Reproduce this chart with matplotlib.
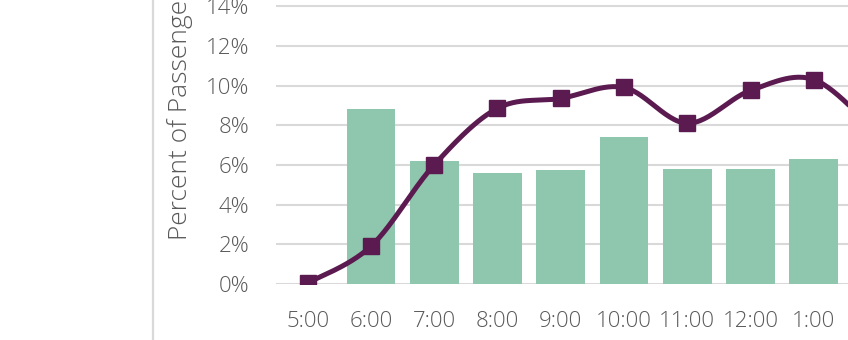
import numpy as np
import matplotlib.pyplot as plt
from matplotlib.lines import Line2D

# data
hours = ["5:00", "6:00", "7:00", "8:00", "9:00", "10:00", "11:00", "12:00", "1:00", "2:00"]
bar_pct = [0.0, 8.8, 6.2, 5.6, 5.75, 7.4, 5.8, 5.8, 6.3, 6.0]
line_pct = [0.05, 1.9, 6.0, 8.85, 9.35, 9.9, 8.1, 9.75, 10.3, 7.6]

bar_color = "#8fc6ae"
line_color = "#5b1b50"
grid_color = "#d9d9d9"
text_color = "#595959"

plt.rcParams['font.family'] = ['Open Sans', 'DejaVu Sans']
plt.rcParams['font.weight'] = 'light'


# smoothed line like a spreadsheet "smoothed line" (Catmull-Rom through the points)
def smooth(xs, ys, n=30):
    xs = np.asarray(xs, float)
    ys = np.asarray(ys, float)
    px = np.concatenate([[xs[0]], xs, [xs[-1]]])
    py = np.concatenate([[ys[0]], ys, [ys[-1]]])
    out_x, out_y = [], []
    t = np.linspace(0, 1, n)
    for i in range(1, len(px) - 2):
        p0x, p1x, p2x, p3x = px[i-1], px[i], px[i+1], px[i+2]
        p0y, p1y, p2y, p3y = py[i-1], py[i], py[i+1], py[i+2]
        # bezier control points
        c1x, c1y = p1x + (p2x - p0x) / 6, p1y + (p2y - p0y) / 6
        c2x, c2y = p2x - (p3x - p1x) / 6, p2y - (p3y - p1y) / 6
        bx = (1-t)**3*p1x + 3*(1-t)**2*t*c1x + 3*(1-t)*t**2*c2x + t**3*p2x
        by = (1-t)**3*p1y + 3*(1-t)**2*t*c1y + 3*(1-t)*t**2*c2y + t**3*p2y
        out_x.extend(bx)
        out_y.extend(by)
    return np.array(out_x), np.array(out_y)


fig = plt.figure(figsize=(8.48, 3.4), dpi=100)
ax = fig.add_axes([276/848, 56/340, 1 - 276/848, 317.6/340])

x = np.arange(len(hours))
ax.bar(x, bar_pct, width=0.77, color=bar_color, zorder=2)

sx, sy = smooth(x, line_pct)
ax.plot(sx, sy, color=line_color, lw=3.6, zorder=3, solid_capstyle='round')
ax.plot(x, line_pct, 's', color=line_color, ms=11, zorder=4)

ax.set_yticks(np.arange(0, 17, 2))
ax.set_yticklabels([f"{v}%" for v in range(0, 17, 2)])
ax.set_xticks(x)
ax.set_xticklabels(hours)
ax.set_xlim(-0.5, 8.54)
ax.set_ylim(0, 16)
ax.grid(axis='y', color=grid_color, lw=1.5, zorder=0)
ax.set_axisbelow(True)
for s in ax.spines.values():
    s.set_visible(False)
ax.tick_params(axis='y', length=0, pad=19, labelsize=16, labelcolor=text_color)
ax.tick_params(axis='x', length=0, pad=19.5, labelsize=16, labelcolor=text_color)

fig.text(167/848, 100/340, "Percent of Passengers", rotation=90, ha='left', va='bottom',
         fontsize=19, color=text_color)

fig.add_artist(Line2D([152.5/848, 152.5/848], [0, 1], color=grid_color, lw=1.6))

fig.savefig("out.png", dpi=100)
